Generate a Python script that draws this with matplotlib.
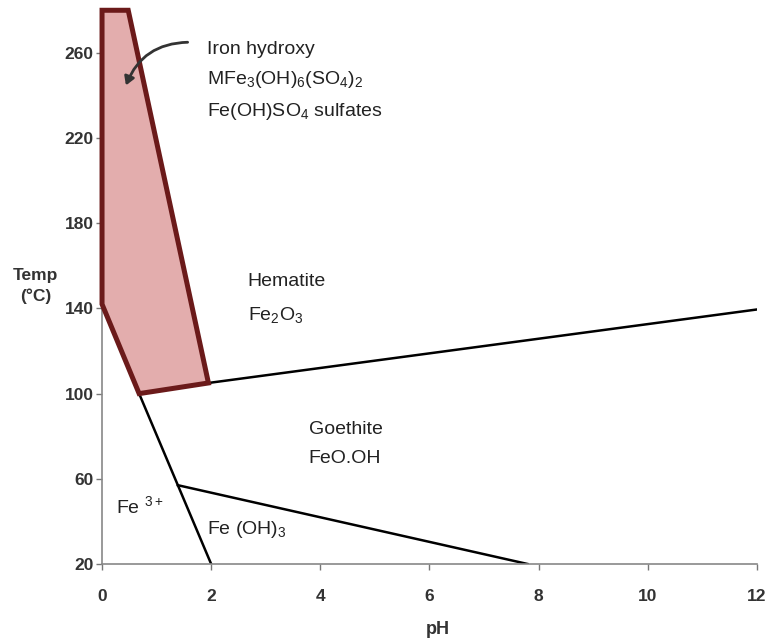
import matplotlib

matplotlib.use("Agg")
import matplotlib.pyplot as plt
from matplotlib.patches import Polygon, FancyArrowPatch

plt.rcParams["font.family"] = ["Liberation Sans", "DejaVu Sans"]
plt.rcParams["mathtext.default"] = "regular"

# sulfate stability field (pH, temperature)
sulfate_ph = [0.0, 0.48, 1.95, 0.68, 0.0]
sulfate_temp = [280, 280, 105, 100, 142]

# phase boundaries
hematite_ph = [1.95, 12.0]
hematite_temp = [105, 139.5]
fe3_ph = [0.68, 2.0]
fe3_temp = [100, 20]
hydroxide_ph = [1.39, 7.8]
hydroxide_temp = [57, 20]

x_ticks = [0, 2, 4, 6, 8, 10, 12]
y_ticks = [20, 60, 100, 140, 180, 220, 260]

# field labels: (pH, temp, text)
labels = [
    (1.92, 261.5, "Iron hydroxy"),
    (1.92, 247.5, "MFe$_3$(OH)$_6$(SO$_4$)$_2$"),
    (1.92, 232.5, "Fe(OH)SO$_4$ sulfates"),
    (2.67, 152.5, "Hematite"),
    (2.67, 137, "Fe$_2$O$_3$"),
    (3.79, 83, "Goethite"),
    (3.79, 69.5, "FeO.OH"),
    (0.26, 47, "Fe $^{3+}$"),
    (1.92, 36, "Fe (OH)$_3$"),
]

fig = plt.figure(figsize=(7.73, 6.42), dpi=100)
ax = fig.add_axes([0.132, 0.1215, 0.847, 0.8625])

ax.add_patch(Polygon(list(zip(sulfate_ph, sulfate_temp)), closed=True,
                     facecolor="#e3adad", edgecolor="#6b1a1a", linewidth=3.6,
                     joinstyle="miter", clip_on=False, zorder=3))
for xs, ys in [(hematite_ph, hematite_temp), (fe3_ph, fe3_temp),
               (hydroxide_ph, hydroxide_temp)]:
    ax.plot(xs, ys, color="black", linewidth=1.8, zorder=2)

for x, y, s in labels:
    ax.text(x, y, s, fontsize=14, color="#222222", va="center", ha="left")

ax.add_patch(FancyArrowPatch((1.62, 265), (0.42, 243.5),
                             connectionstyle="arc3,rad=0.35",
                             arrowstyle="-|>,head_length=5,head_width=3",
                             color="#333333", linewidth=2, zorder=4))

ax.set_xlim(0, 12)
ax.set_ylim(20, 280)
ax.set_xticks(x_ticks)
ax.set_yticks(y_ticks)
ax.tick_params(labelsize=12.5, color="#777777", length=4, width=1)
for lab in ax.get_xticklabels() + ax.get_yticklabels():
    lab.set_fontweight("bold")
    lab.set_color("#333333")
ax.tick_params(axis="x", pad=14)
ax.tick_params(axis="y", pad=2)
for side in ["top", "right"]:
    ax.spines[side].set_visible(False)
for side in ["left", "bottom"]:
    ax.spines[side].set_color("#888888")
    ax.spines[side].set_linewidth(1.2)

fig.text(0.046, 0.554, "Temp\n(°C)", fontsize=12.5, fontweight="bold",
         ha="center", va="center", color="#333333", linespacing=1.45)
fig.text(0.566, 0.02, "pH", fontsize=13, fontweight="bold",
         ha="center", va="center", color="#333333")

fig.savefig("out.png", dpi=100)
